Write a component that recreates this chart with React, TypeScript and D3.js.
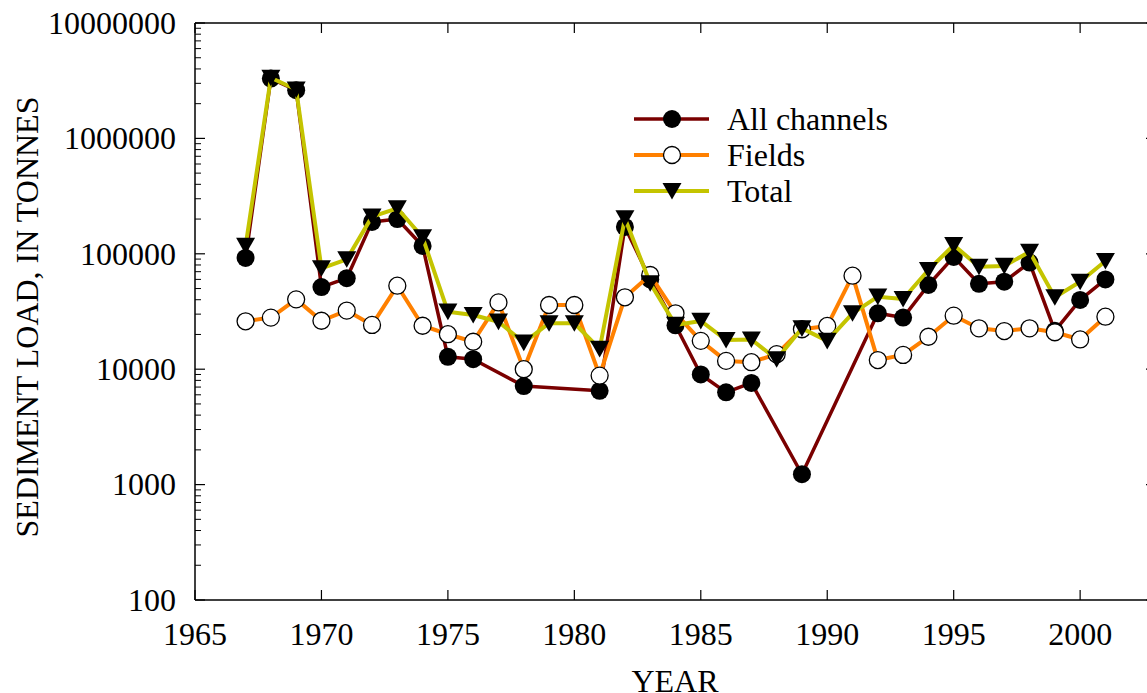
import React from "react";
import * as d3 from "d3";

const years: number[] = d3.range(1967, 2002);

// Values in tonnes; null = no point plotted
const allChannels: (number | null)[] = [
  92000, 3300000, 2620000, 51500, 61500, 189000, 200000, 117000, 12800, 12200,
  null, 7150, null, null, 6500, 171000, 60000, 24000, 9000, 6300,
  7600, null, 1230, null, null, 30500, 28000, 53700, 94000, 55000,
  57300, 84000, 21500, 39800, 60000,
];

const fields: (number | null)[] = [
  26000, 28000, 40300, 26300, 32200, 24200, 52900, 23800, 20100, 17300,
  37900, 10000, 36000, 36000, 8800, 42000, 65500, 30500, 17600, 11800,
  11500, 13500, 22200, 23700, 64600, 12000, 13300, 19100, 29100, 22600,
  21400, 22600, 20900, 18100, 28500,
];

const total: (number | null)[] = [
  117000, 3350000, 2650000, 74900, 89600, 210000, 248000, 139000, 31500, 29500,
  25800, 17000, 25000, 25000, 15000, 203000, 55500, 24200, 26200, 17900,
  18100, 12200, 22600, 17600, 30500, 42500, 40600, 72400, 119000, 77300,
  78500, 104000, 42000, 57300, 86600,
];

const xTicks: number[] = [1965, 1970, 1975, 1980, 1985, 1990, 1995, 2000];
const yMajor: number[] = [100, 1000, 10000, 100000, 1000000, 10000000];

const seriesNames = ["All channels", "Fields", "Total"];

const W = 1147;
const H = 693;
const left = 195;
const right = 1156;
const top = 23;
const bottom = 600;
const FONT = "'Liberation Serif', 'Times New Roman', serif";

export default function App() {
  const x = d3.scaleLinear().domain([1965, 2003]).range([left, right]);
  const y = d3.scaleLog().domain([100, 10000000]).range([bottom, top]);

  const mk = (vals: (number | null)[]) =>
    d3
      .line<number>()
      .x((i) => x(years[i]))
      .y((i) => y(vals[i] as number))(d3.range(years.length).filter((i) => vals[i] != null)) || "";

  const allTicks = y.ticks();
  const minorTicks = allTicks.filter((t) => !yMajor.includes(t));

  const tri = (cx: number, cy: number, s: number) =>
    `M${cx - s},${cy - s * 0.85}L${cx + s},${cy - s * 0.85}L${cx},${cy + s * 0.9}Z`;

  const series = [
    { name: seriesNames[0], vals: allChannels, color: "#7a0000", width: 3.5, marker: "filled" },
    { name: seriesNames[1], vals: fields, color: "#ff8000", width: 4, marker: "open" },
    { name: seriesNames[2], vals: total, color: "#c4c400", width: 4, marker: "tri" },
  ];

  const drawMarker = (kind: string, cx: number, cy: number, key: string) => {
    if (kind === "filled") return <circle key={key} cx={cx} cy={cy} r={9} fill="#000" />;
    if (kind === "open")
      return <circle key={key} cx={cx} cy={cy} r={8.5} fill="#fff" stroke="#000" strokeWidth={1.3} />;
    return <path key={key} d={tri(cx, cy, 9.5)} fill="#000" />;
  };

  const legendY = [119, 155, 191];

  return (
    <svg width={W} height={H} style={{ position: "absolute", left: 0, top: 0, background: "#fff" }} fontFamily={FONT}>
      <rect x={0} y={0} width={W} height={H} fill="#fff" />
      {/* frame */}
      <line x1={left} y1={top} x2={left} y2={bottom} stroke="#000" strokeWidth={1.5} />
      <line x1={left} y1={bottom} x2={right} y2={bottom} stroke="#000" strokeWidth={1.5} />
      <line x1={left} y1={top} x2={right} y2={top} stroke="#000" strokeWidth={1.5} />
      <line x1={right} y1={top} x2={right} y2={bottom} stroke="#000" strokeWidth={1.5} />

      {/* x ticks */}
      {xTicks.map((t) => (
        <g key={"xt" + t}>
          <line x1={x(t)} x2={x(t)} y1={bottom} y2={bottom - 10} stroke="#000" strokeWidth={1.2} />
          <line x1={x(t)} x2={x(t)} y1={top} y2={top + 10} stroke="#000" strokeWidth={1.2} />
          <text x={x(t)} y={645} fontSize={32} textAnchor="middle" fill="#000">
            {t}
          </text>
        </g>
      ))}

      {/* y ticks */}
      {yMajor.map((t) => (
        <g key={"yt" + t}>
          <line x1={left} x2={left + 10} y1={y(t)} y2={y(t)} stroke="#000" strokeWidth={1.2} />
          <line x1={right} x2={right - 10} y1={y(t)} y2={y(t)} stroke="#000" strokeWidth={1.2} />
          <text x={176} y={y(t)} dy="0.34em" fontSize={32} textAnchor="end" fill="#000">
            {t}
          </text>
        </g>
      ))}
      {minorTicks.map((t) => (
        <line key={"ym" + t} x1={left} x2={left + 6} y1={y(t)} y2={y(t)} stroke="#000" strokeWidth={1} />
      ))}

      {/* axis titles */}
      <text x={675} y={692} fontSize={32} textAnchor="middle" fill="#000">
        YEAR
      </text>
      <text
        transform={`translate(38,317) rotate(-90)`}
        fontSize={32}
        textAnchor="middle"
        fill="#000"
      >
        SEDIMENT LOAD, IN TONNES
      </text>

      {/* series */}
      {series.map((s) => (
        <g key={s.name}>
          <path d={mk(s.vals)} fill="none" stroke={s.color} strokeWidth={s.width} strokeLinejoin="round" />
          {years.map((yr, i) =>
            s.vals[i] == null ? null : drawMarker(s.marker, x(yr), y(s.vals[i] as number), s.name + yr)
          )}
        </g>
      ))}

      {/* legend */}
      {series.map((s, i) => (
        <g key={"lg" + s.name}>
          <line x1={634} x2={709} y1={legendY[i]} y2={legendY[i]} stroke={s.color} strokeWidth={s.width} />
          {drawMarker(s.marker, 672, legendY[i], "lm" + i)}
          <text x={727} y={legendY[i]} dy="0.34em" fontSize={32} fill="#000">
            {s.name}
          </text>
        </g>
      ))}
    </svg>
  );
}
